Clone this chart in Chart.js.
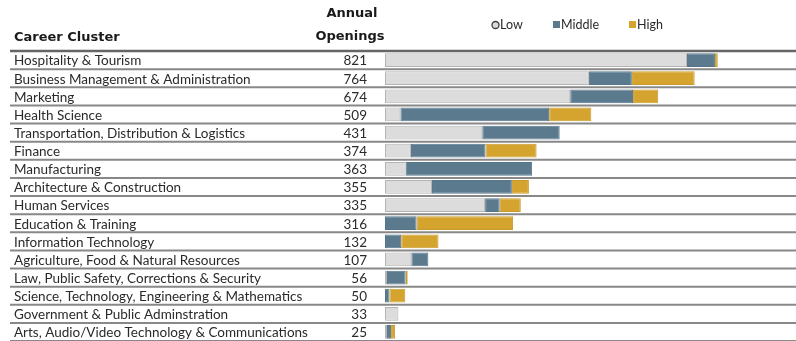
<!DOCTYPE html>
<html>
<head>
<meta charset="utf-8">
<script src="https://cdn.jsdelivr.net/npm/chart.js@4/dist/chart.umd.min.js"></script>
<style>
  html, body { margin: 0; padding: 0; background: #fff; }
</style>
</head>
<body>
<canvas id="chart" width="796" height="341"></canvas>
<script>
// career clusters, largest first
const clusters = [
  'Hospitality & Tourism',
  'Business Management & Administration',
  'Marketing',
  'Health Science',
  'Transportation, Distribution & Logistics',
  'Finance',
  'Manufacturing',
  'Architecture & Construction',
  'Human Services',
  'Education & Training',
  'Information Technology',
  'Agriculture, Food & Natural Resources',
  'Law, Public Safety, Corrections & Security',
  'Science, Technology, Engineering & Mathematics',
  'Government & Public Adminstration',
  'Arts, Audio/Video Technology & Communications'
];
const openings = [821, 764, 674, 509, 431, 374, 363, 355, 335, 316, 132, 107, 56, 50, 33, 25];

// openings split by wage level
const lowWage  = [745, 503, 457, 38, 240, 64, 51, 116, 247, 0, 0, 65, 5, 0, 33, 5];
const midWage  = [69, 106, 155, 367, 191, 184, 312, 197, 36, 78, 40, 42, 46, 11, 0, 10];
const highWage = [7, 155, 62, 104, 0, 126, 0, 42, 52, 238, 92, 0, 5, 39, 0, 10];

const levelNames = ['Low', 'Middle', 'High'];

const FONT = 'Lato, "Open Sans", sans-serif';
const HEAD_FONT = 'bold 13px "DejaVu Sans", sans-serif';

// draws the table part: row rules, header, cluster names, totals and the key
const tablePlugin = {
  id: 'tablePlugin',
  beforeDatasetsDraw(chart) {
    const ctx = chart.ctx;
    const area = chart.chartArea;
    const y = chart.scales.y;
    const rowH = (area.bottom - area.top) / clusters.length;

    ctx.save();
    // row rules
    for (let i = 0; i <= clusters.length; i++) {
      const ly = area.top + i * rowH;
      ctx.beginPath();
      ctx.strokeStyle = i === 0 ? '#666' : '#888';
      ctx.lineWidth = i === 0 ? 2.5 : 2;
      ctx.moveTo(10, ly);
      ctx.lineTo(796, ly);
      ctx.stroke();
    }

    // header
    ctx.fillStyle = '#1a1a1a';
    ctx.font = HEAD_FONT;
    ctx.textBaseline = 'middle';
    ctx.textAlign = 'left';
    ctx.fillText('Career Cluster', 14, 38);
    ctx.textAlign = 'center';
    ctx.fillText('Annual', 352, 14);
    ctx.fillText('Openings', 350, 37);

    // cluster names and totals
    ctx.font = '13.5px ' + FONT;
    clusters.forEach((name, i) => {
      const cy = y.getPixelForValue(i) + 1;
      ctx.fillStyle = '#2a2a2a';
      ctx.textAlign = 'left';
      ctx.fillText(name, 14, cy);
      ctx.textAlign = 'right';
      ctx.fillText(String(openings[i]), 367, cy);
    });

    // key
    const keyX = [492, 553, 629];
    ctx.font = '12.5px ' + FONT;
    ctx.textAlign = 'left';
    chart.data.datasets.forEach((ds, i) => {
      const kx = keyX[i];
      const ky = 25;
      ctx.fillStyle = ds.backgroundColor;
      if (i === 0) {
        ctx.beginPath();
        ctx.arc(kx + 3.5, ky, 3.5, 0, Math.PI * 2);
        ctx.fill();
        ctx.strokeStyle = '#3a3a3a';
        ctx.lineWidth = 1.3;
        ctx.stroke();
      } else {
        ctx.fillRect(kx, ky - 4, 7, 7);
      }
      ctx.fillStyle = '#2a2a2a';
      ctx.fillText(ds.label, kx + 8, ky);
    });
    ctx.restore();
  }
};

const colors = ['#dcdcdc', '#5b7a8e', '#d5a42f'];
const borders = ['#b4b4b4', '#56758a', '#c99a2b'];

new Chart(document.getElementById('chart'), {
  type: 'bar',
  data: {
    labels: clusters,
    datasets: [lowWage, midWage, highWage].map((vals, i) => ({
      label: levelNames[i],
      data: vals,
      backgroundColor: colors[i],
      borderColor: borders[i],
      borderWidth: 1,
      borderSkipped: false,
      categoryPercentage: 1,
      barPercentage: 0.76
    }))
  },
  options: {
    indexAxis: 'y',
    responsive: false,
    devicePixelRatio: 1,
    animation: false,
    layout: { padding: { left: 385, top: 51, right: 0, bottom: 0 } },
    scales: {
      x: { stacked: true, min: 0, max: 1014, display: false },
      y: { stacked: true, display: false }
    },
    plugins: {
      legend: { display: false },
      tooltip: { enabled: false }
    }
  },
  plugins: [tablePlugin]
});
</script>
</body>
</html>
